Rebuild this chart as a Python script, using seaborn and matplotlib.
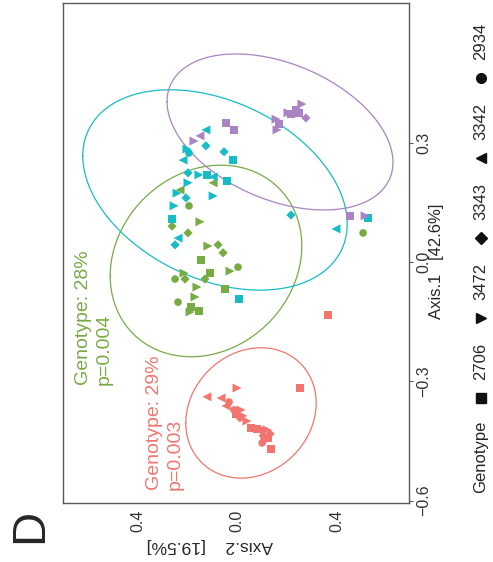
import numpy as np
import pandas as pd
import matplotlib
matplotlib.use("Agg")
import matplotlib.pyplot as plt
import seaborn as sns
from matplotlib.lines import Line2D

sns.set_theme(style="white")
plt.rcParams["font.family"] = ["Liberation Sans", "DejaVu Sans"]

# ---- data -------------------------------------------------------------
genotypes = ["2706", "3472", "3343", "3342", "2934"]
genotype_markers = {"2706": "s", "3472": ">", "3343": "D", "3342": "<", "2934": "o"}
genotype_sizes = {"2706": 30, "3472": 42, "3343": 22, "3342": 42, "2934": 30}

groups = ["A", "B", "C", "D"]
group_colors = {"A": "#F1756E", "B": "#77AB43", "C": "#16BCC6", "D": "#A983C2"}

# ordination scores (Axis.1, Axis.2) and genotype of each sample, per group
a_axis1 = [-0.339, -0.342, -0.317, -0.317, -0.352, -0.362, -0.372, -0.372, -0.382, -0.387, -0.400, -0.392,
           -0.417, -0.420, -0.425, -0.422, -0.437, -0.442, -0.450, -0.432, -0.455, -0.470, -0.133]
a_axis2 = [0.121, 0.064, 0.000, -0.253, 0.032, 0.044, 0.012, -0.016, 0.004, -0.024, -0.040, -0.012,
           -0.056, -0.080, -0.101, -0.121, -0.105, -0.125, -0.113, -0.133, -0.101, -0.137, -0.366]
a_geno = ["3342", "3342", "3472", "2706", "2934", "3342", "2934", "3472", "2706", "3472", "3472", "3343",
          "2706", "2706", "3343", "3472", "3343", "2706", "3472", "3343", "2934", "2706", "2706"]

b_axis1 = [0.181, 0.199, 0.141, 0.090, 0.101, 0.073, 0.040, 0.043, 0.023, 0.005, -0.023, -0.013, -0.028,
           -0.043, -0.028, -0.043, -0.043, -0.063, -0.068, -0.088, -0.101, -0.113, -0.123, -0.126, 0.073]
b_axis2 = [0.229, 0.096, 0.193, 0.261, 0.149, 0.197, 0.117, 0.076, 0.056, 0.145, 0.028, -0.004, 0.109,
           0.249, 0.213, 0.209, 0.129, 0.161, 0.048, 0.169, 0.237, 0.185, 0.153, 0.189, -0.507]
b_geno = ["3342", "3342", "2934", "3343", "3472", "3343", "3472", "3343", "3343", "2706", "3472", "2934", "2706",
          "2934", "3472", "3343", "3343", "3472", "2706", "3472", "2934", "2706", "2706", "3472", "2934"]

c_axis1 = [0.332, 0.292, 0.284, 0.274, 0.277, 0.256, 0.256, 0.224, 0.219, 0.219, 0.214, 0.204, 0.199,
           0.173, 0.161, 0.166, 0.141, 0.108, 0.060, 0.043, 0.118, 0.083, 0.111, -0.093]
c_axis2 = [0.125, 0.125, 0.201, 0.193, 0.052, 0.016, 0.217, 0.197, 0.153, 0.121, 0.096, 0.040, 0.197,
           0.241, 0.205, 0.096, 0.253, 0.261, 0.237, 0.249, -0.217, -0.398, -0.527, -0.008]
c_geno = ["3342", "3343", "3472", "2934", "3343", "2706", "3342", "3343", "3472", "2706", "3342", "2706", "3472",
          "3472", "3343", "3472", "3472", "2706", "3342", "3343", "3343", "3342", "2706", "2706"]

d_axis1 = [0.397, 0.382, 0.372, 0.375, 0.362, 0.375, 0.359, 0.347, 0.332, 0.349, 0.332, 0.304, 0.317, 0.116, 0.116]
d_axis2 = [-0.261, -0.237, -0.217, -0.249, -0.277, -0.205, -0.157, -0.169, -0.161, 0.044, 0.012, 0.173, 0.149,
           -0.454, -0.515]
d_geno = ["3472", "2706", "2706", "2706", "3343", "3472", "3472", "2706", "3472", "2706", "2706", "3472", "3342",
          "2706", "3472"]

# 95% ellipses: centre (Axis.2, Axis.1) and covariance [var2, var1, cov21]
ellipse_centers = {"A": (-0.0563, -0.3796), "B": (0.1246, 0.0025), "C": (0.0884, 0.1810), "D": (-0.1729, 0.3268)}
ellipse_covs = {"A": (0.06869, 0.02686, -0.006569), "B": (0.14830, 0.05799, -0.014477),
                "C": (0.28255, 0.06343, 0.045476), "D": (0.20622, 0.03847, 0.034673)}

# PERMANOVA annotations
stat_labels = ["Genotype: 28%\np=0.004", "Genotype: 29%\np=0.003"]
stat_groups = ["B", "A"]
stat_pos = [(0.575, -0.309), (0.291, -0.573)]

axis1_ticks = [-0.6, -0.3, 0.0, 0.3]
axis1_ticklabels = ["\u22120.6", "\u22120.3", "0.0", "0.3"]
axis2_ticks = [0.4, 0.0, -0.4]
axis2_ticklabels = ["0.4", "0.0", "0.4"]

# ---- frame --------------------------------------------------------------
frames = []
for g, a1, a2, gt in [("A", a_axis1, a_axis2, a_geno), ("B", b_axis1, b_axis2, b_geno),
                      ("C", c_axis1, c_axis2, c_geno), ("D", d_axis1, d_axis2, d_geno)]:
    frames.append(pd.DataFrame({"Axis.1": a1, "Axis.2": a2, "Genotype": gt, "group": g}))
df = pd.concat(frames, ignore_index=True)

W, H = 493, 562
fig = plt.figure(figsize=(W / 100, H / 100), dpi=100)
ax = fig.add_axes([63 / W, 1 - 503 / H, (409 - 63) / W, (503 - 3) / H])

# ellipses
t = np.linspace(0, 2 * np.pi, 300)
for g in groups:
    v2, v1, c21 = ellipse_covs[g]
    L = np.linalg.cholesky(np.array([[v2, c21], [c21, v1]]))
    pts = np.array(ellipse_centers[g])[:, None] + L @ np.vstack([np.cos(t), np.sin(t)])
    ax.plot(pts[0], pts[1], color=group_colors[g], lw=0.9, zorder=1)

sns.scatterplot(data=df, x="Axis.2", y="Axis.1", hue="group", style="Genotype", size="Genotype",
                palette=group_colors, markers=genotype_markers, sizes=genotype_sizes,
                hue_order=groups, style_order=genotypes, size_order=genotypes,
                linewidth=0, alpha=1, legend=False, ax=ax, zorder=2)

for lab, g, (x, y) in zip(stat_labels, stat_groups, stat_pos):
    ax.text(x, y, lab, rotation=90, color=group_colors[g], fontsize=14, ha="center", va="bottom",
            multialignment="left", linespacing=1.25)

ax.set_xlim(0.6995, -0.6915)
ax.set_ylim(-0.606, 0.651)
ax.set_xlabel("")
ax.set_ylabel("")
for s in ax.spines.values():
    s.set_color("#5a5a5a")
    s.set_linewidth(1.0)

ax.yaxis.tick_right()
ax.set_yticks(axis1_ticks)
ax.set_yticklabels(axis1_ticklabels, rotation=90, va="center")
ax.set_xticks(axis2_ticks)
ax.set_xticklabels(axis2_ticklabels, rotation=90)
ax.tick_params(axis="both", length=3, width=0.8, color="#5a5a5a", labelsize=11.5, labelcolor="#333333", pad=2)
ax.tick_params(axis="y", left=False, right=True, labelleft=False, labelright=True)

# axis titles
fig.text(437 / W, 1 - 261 / H, "Axis.1   [42.6%]", rotation=90, fontsize=12, ha="center", va="center")
fig.text(210 / W, 1 - 546 / H, "Axis.2    [19.5%]", rotation=180, fontsize=12.5, ha="center", va="center")

# panel tag
fig.text(30 / W, 1 - 526 / H, "D", rotation=90, fontsize=34, ha="center", va="center")

# genotype legend
leg_x = 481 / W
label_y = [361.5, 281.5, 201.5, 121.5, 41.5]
key_y = [398, 318, 238, 158, 78]
for gt, ly, ky in zip(genotypes, label_y, key_y):
    fig.text(leg_x, 1 - ly / H, gt, rotation=90, fontsize=12, ha="center", va="center")
    fig.add_artist(Line2D([leg_x], [1 - ky / H], marker=genotype_markers[gt], color="#111111",
                          markersize=7 if gt != "3343" else 6, linestyle="none", transform=fig.transFigure))
fig.text(leg_x, 1 - 457 / H, "Genotype", rotation=90, fontsize=12, ha="center", va="center")

fig.savefig("out.png", dpi=100, facecolor="white")
